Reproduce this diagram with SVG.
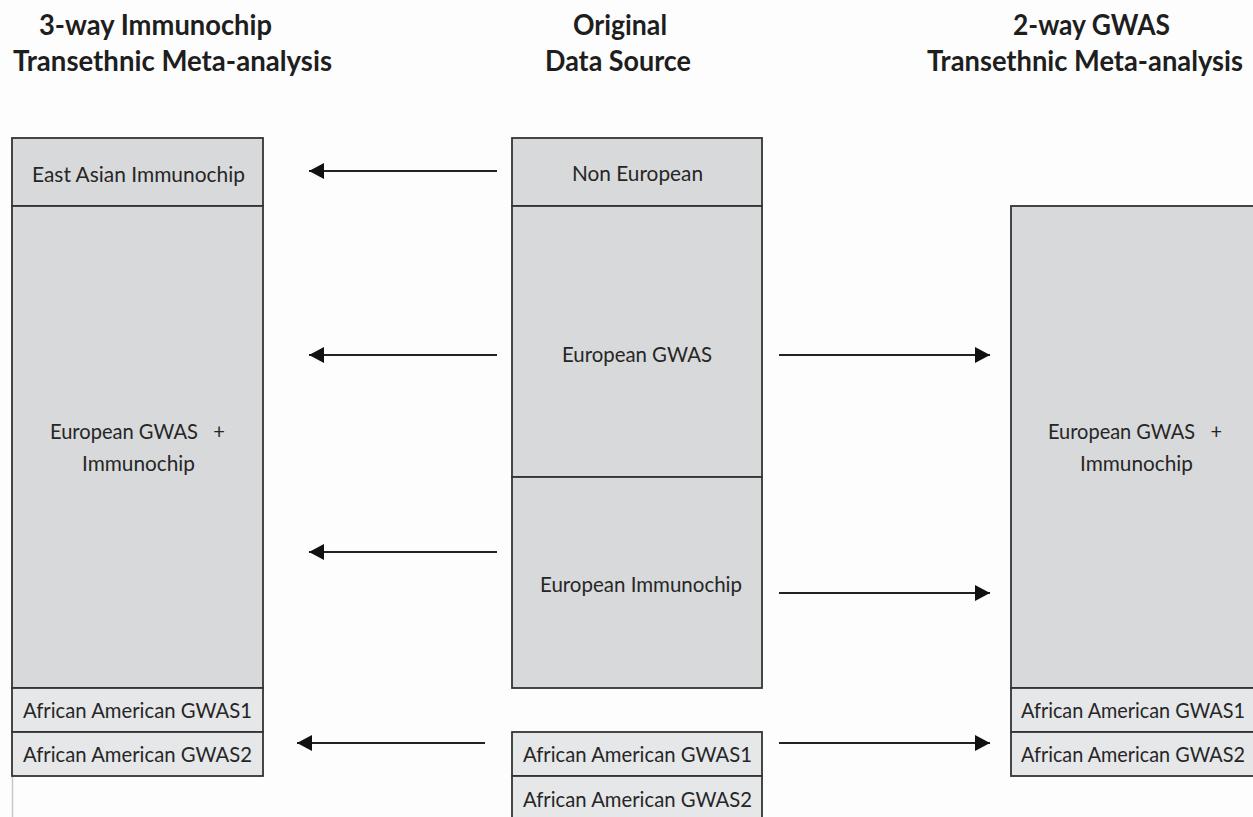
<svg xmlns="http://www.w3.org/2000/svg" width="1253" height="817" viewBox="0 0 1253 817">
<style>
.bg{fill:#fdfdfd}
.box{fill:#d8d9db;stroke:#333;stroke-width:1.8}
.lite{fill:#e6e7e9;stroke:#333;stroke-width:1.8}
.t{font-family:Lato,"Open Sans","Liberation Sans",sans-serif;font-size:21.5px;fill:#262626;white-space:pre}
.h{font-family:Lato,"Open Sans","Liberation Sans",sans-serif;font-size:29px;font-weight:bold;fill:#1e1e1e}
.c{stroke:#222;stroke-width:1.8;fill:none;marker-end:url(#ah)}
</style>
<defs>
<marker id="ah" markerUnits="userSpaceOnUse" markerWidth="16" markerHeight="18" refX="15" refY="8" orient="auto">
<path d="M0,0 L15,8 L0,16 Z" fill="#111"/>
</marker>
</defs>
<rect class="bg" x="0" y="0" width="1253" height="817"/>
<line x1="12.5" y1="776" x2="12.5" y2="817" stroke="#c8c8c8" stroke-width="1.5"/>
<g id="titles">
<text class="h" x="39" y="35" textLength="233" lengthAdjust="spacingAndGlyphs">3-way Immunochip</text>
<text class="h" x="13" y="71" textLength="319" lengthAdjust="spacingAndGlyphs">Transethnic Meta-analysis</text>
<text class="h" x="573" y="35" textLength="94" lengthAdjust="spacingAndGlyphs">Original</text>
<text class="h" x="545" y="71" textLength="146" lengthAdjust="spacingAndGlyphs">Data Source</text>
<text class="h" x="1013" y="35" textLength="157" lengthAdjust="spacingAndGlyphs">2-way GWAS</text>
<text class="h" x="927" y="71" textLength="316" lengthAdjust="spacingAndGlyphs">Transethnic Meta-analysis</text>
</g>
<g id="left-east-asian">
<rect class="box" x="12" y="138" width="251" height="68"/>
<text class="t" x="32" y="182" textLength="213" lengthAdjust="spacingAndGlyphs">East Asian Immunochip</text>
</g>
<g id="left-european">
<rect class="box" x="12" y="206" width="251" height="482"/>
<text class="t" x="50" y="439" textLength="175" lengthAdjust="spacingAndGlyphs" xml:space="preserve">European GWAS   +</text>
<text class="t" x="82" y="471" textLength="113" lengthAdjust="spacingAndGlyphs">Immunochip</text>
</g>
<g id="left-aa1">
<rect class="lite" x="12" y="688" width="251" height="44"/>
<text class="t" x="23" y="718" textLength="229" lengthAdjust="spacingAndGlyphs">African American GWAS1</text>
</g>
<g id="left-aa2">
<rect class="lite" x="12" y="732" width="251" height="44"/>
<text class="t" x="23" y="762" textLength="229" lengthAdjust="spacingAndGlyphs">African American GWAS2</text>
</g>
<g id="mid-non-european">
<rect class="box" x="512" y="138" width="250" height="68"/>
<text class="t" x="572" y="181" textLength="131" lengthAdjust="spacingAndGlyphs">Non European</text>
</g>
<g id="mid-european-gwas">
<rect class="box" x="512" y="206" width="250" height="271"/>
<text class="t" x="562" y="362" textLength="150" lengthAdjust="spacingAndGlyphs">European GWAS</text>
</g>
<g id="mid-european-immunochip">
<rect class="box" x="512" y="477" width="250" height="211"/>
<text class="t" x="540" y="592" textLength="202" lengthAdjust="spacingAndGlyphs">European Immunochip</text>
</g>
<g id="mid-aa1">
<rect class="lite" x="512" y="732" width="250" height="44"/>
<text class="t" x="523" y="762" textLength="229" lengthAdjust="spacingAndGlyphs">African American GWAS1</text>
</g>
<g id="mid-aa2">
<rect class="lite" x="512" y="776" width="250" height="50"/>
<text class="t" x="523" y="807" textLength="229" lengthAdjust="spacingAndGlyphs">African American GWAS2</text>
</g>
<g id="right-european">
<rect class="box" x="1011" y="206" width="251" height="482"/>
<text class="t" x="1048" y="439" textLength="174" lengthAdjust="spacingAndGlyphs" xml:space="preserve">European GWAS   +</text>
<text class="t" x="1080" y="471" textLength="113" lengthAdjust="spacingAndGlyphs">Immunochip</text>
</g>
<g id="right-aa1">
<rect class="lite" x="1011" y="688" width="251" height="44"/>
<text class="t" x="1021" y="718" textLength="224" lengthAdjust="spacingAndGlyphs">African American GWAS1</text>
</g>
<g id="right-aa2">
<rect class="lite" x="1011" y="732" width="251" height="44"/>
<text class="t" x="1021" y="762" textLength="224" lengthAdjust="spacingAndGlyphs">African American GWAS2</text>
</g>
<g id="connectors">
<line class="c" x1="497" y1="171" x2="309" y2="171"/>
<line class="c" x1="497" y1="355" x2="309" y2="355"/>
<line class="c" x1="497" y1="552" x2="309" y2="552"/>
<line class="c" x1="485" y1="743" x2="297" y2="743"/>
<line class="c" x1="779" y1="355" x2="990" y2="355"/>
<line class="c" x1="779" y1="593" x2="990" y2="593"/>
<line class="c" x1="779" y1="743" x2="990" y2="743"/>
</g>
</svg>
